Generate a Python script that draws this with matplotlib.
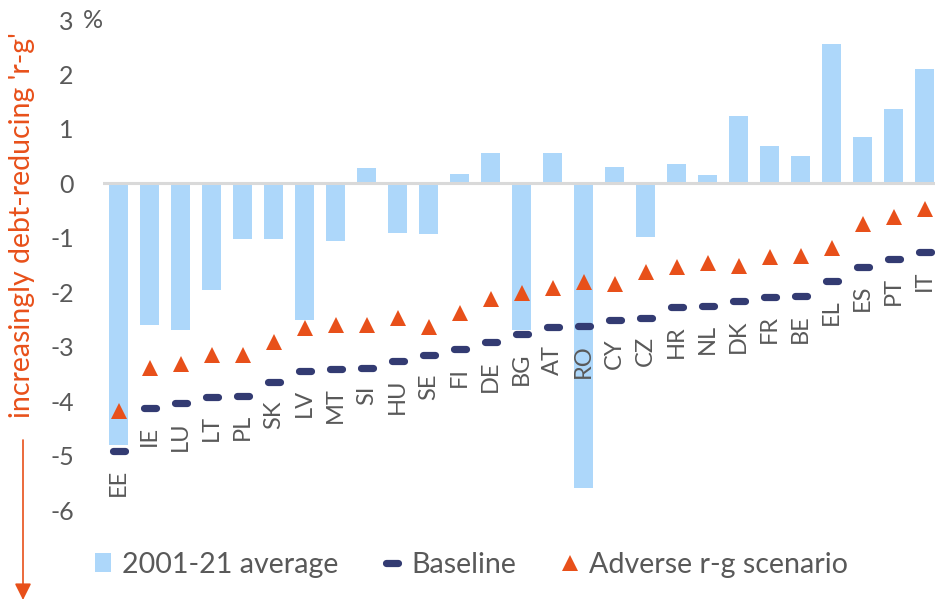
import matplotlib
matplotlib.use("Agg")
import matplotlib.pyplot as plt
from matplotlib.markers import MarkerStyle
from matplotlib.lines import Line2D
from matplotlib.patches import Patch

plt.rcParams['font.family'] = ['Lato', 'DejaVu Sans']

countries = ["EE", "IE", "LU", "LT", "PL", "SK", "LV", "MT", "SI", "HU", "SE", "FI", "DE",
             "BG", "AT", "RO", "CY", "CZ", "HR", "NL", "DK", "FR", "BE", "EL", "ES", "PT", "IT"]
avg_2001_21 = [-4.80, -2.61, -2.69, -1.96, -1.03, -1.03, -2.51, -1.05, 0.28, -0.91, -0.93, 0.18, 0.56,
               -2.70, 0.56, -5.60, 0.30, -0.98, 0.35, 0.15, 1.24, 0.69, 0.51, 2.56, 0.85, 1.36, 2.10]
baseline = [-4.91, -4.12, -4.04, -3.93, -3.90, -3.65, -3.44, -3.41, -3.39, -3.26, -3.16, -3.05, -2.92,
            -2.77, -2.64, -2.62, -2.51, -2.47, -2.28, -2.25, -2.17, -2.09, -2.07, -1.79, -1.53, -1.39, -1.27]
adverse = [-4.19, -3.39, -3.32, -3.16, -3.16, -2.92, -2.65, -2.60, -2.60, -2.47, -2.63, -2.39, -2.13,
           -2.02, -1.93, -1.81, -1.85, -1.62, -1.54, -1.47, -1.52, -1.35, -1.33, -1.19, -0.75, -0.62, -0.47]
y_ticks = [3, 2, 1, 0, -1, -2, -3, -4, -5, -6]

BAR_C = "#ADD7FA"
BASE_C = "#333B72"
ADV_C = "#E8501A"
TXT_C = "#595959"

W, H = 935, 602
fig = plt.figure(figsize=(W / 100, H / 100), dpi=100)
ax = fig.add_axes([103 / W, 92 / H, 837 / W, 490 / H])

x = list(range(len(countries)))
ax.bar(x, avg_2001_21, width=0.59, color=BAR_C, zorder=2)
ax.axhline(0, color="#D9D9D9", lw=2.2, zorder=3)

dash = MarkerStyle("_", capstyle="round")
ax.plot(x, baseline, ls="none", marker=dash, ms=9, mew=5.2, color=BASE_C, zorder=4)
ax.plot(x, adverse, ls="none", marker="^", ms=12, mew=0, color=ADV_C, zorder=5)

# country names sit below the baseline markers
for xi, name, b in zip(x, countries, baseline):
    ax.annotate(name, (xi, b), xytext=(0, -13), textcoords="offset points",
                rotation=90, ha="center", va="top", fontsize=17, color=TXT_C, zorder=6)

ax.set_xlim(-0.5, len(countries) - 0.5)
ax.set_ylim(-6, 3)
ax.set_xticks([])
ax.set_yticks(y_ticks)
ax.set_yticklabels([str(t) for t in y_ticks])
ax.tick_params(axis="y", length=0, pad=21, labelsize=18, labelcolor=TXT_C)
for s in ax.spines.values():
    s.set_visible(False)

fig.text(83 / W, 1 - 21 / H, "%", fontsize=18, color=TXT_C, ha="left", va="center")

# axis note with downward arrow
fig.text(22 / W, 1 - 225 / H, "increasingly debt-reducing 'r-g'", rotation=90,
         fontsize=20.5, color=ADV_C, ha="center", va="center")
ax.annotate("", xy=(23 / W, 1 - 600 / H), xytext=(23 / W, 1 - 440 / H),
            xycoords="figure fraction", textcoords="figure fraction",
            arrowprops=dict(arrowstyle="-|>,head_length=1.0,head_width=0.5",
                            color=ADV_C, lw=1.2, shrinkA=0, shrinkB=0),
            annotation_clip=False)

handles = [
    Patch(facecolor=BAR_C, edgecolor="none"),
    Line2D([], [], ls="none", marker=dash, ms=9, mew=5.2, color=BASE_C),
    Line2D([], [], ls="none", marker="^", ms=12, mew=0, color=ADV_C),
]
labels = ["2001-21 average", "Baseline", "Adverse r-g scenario"]
leg = fig.legend(handles, labels, loc="center left", bbox_to_anchor=(95 / W, 1 - 565 / H),
                 ncol=3, frameon=False, fontsize=20.6, numpoints=1, handlelength=0.55,
                 handleheight=0.65, handletextpad=0.4, columnspacing=1.6,
                 borderpad=0, borderaxespad=0)
for t in leg.get_texts():
    t.set_color(TXT_C)

fig.savefig("out.png", dpi=100)
